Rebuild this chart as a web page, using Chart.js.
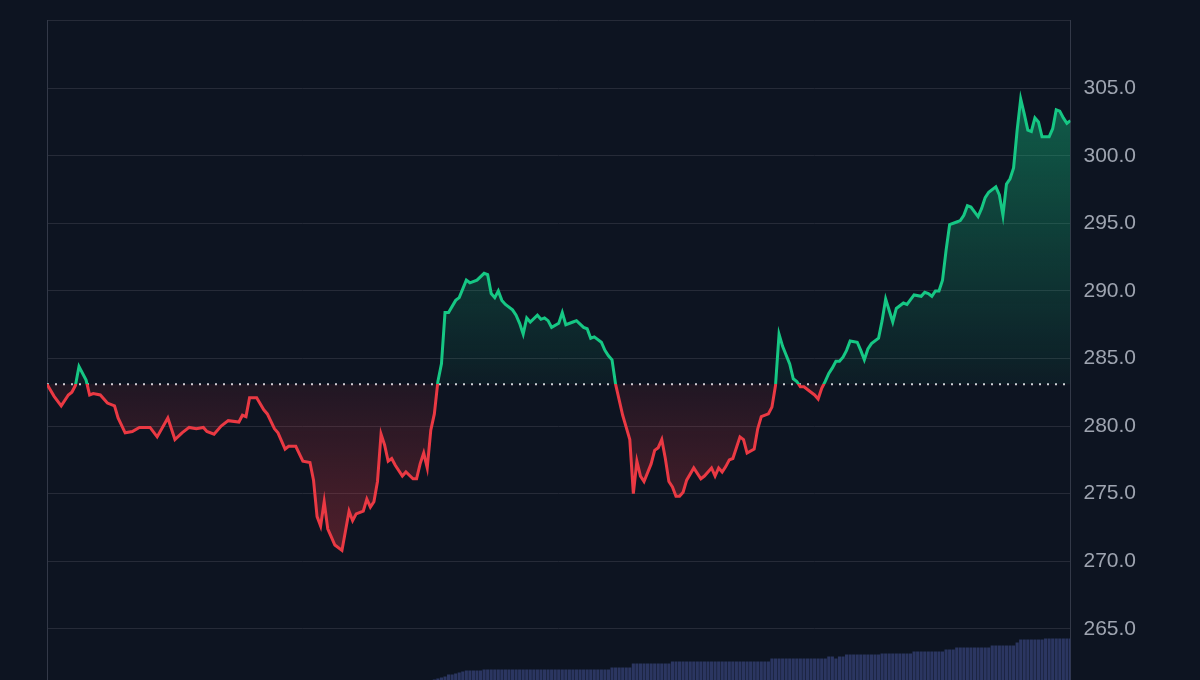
<!DOCTYPE html>
<html>
<head>
<meta charset="utf-8">
<script src="https://cdn.jsdelivr.net/npm/chart.js@4.4.1/dist/chart.umd.min.js"></script>
<style>
  html, body { margin: 0; padding: 0; background: #0d1421; overflow: hidden; width: 1200px; height: 680px; }
  /* the plot runs past the bottom of the window, as in the source screenshot */
  #wrap { position: absolute; left: 0; top: -5px; width: 1200px; height: 754px; }
</style>
</head>
<body>
<div id="wrap"><canvas id="priceChart" width="1200" height="754"></canvas></div>
<script>
// 5-minute slots across the day (0..288) and the price read at each slot
const slots = [
  0, 2, 4, 6, 7, 8, 9, 11, 12, 13, 15, 17, 19, 20, 22, 24, 26, 29, 31, 34,
  36, 38, 40, 42, 44, 45, 47, 49, 51, 54, 55, 56, 57, 59, 61, 62, 64, 65, 67, 68,
  70, 72, 74, 75, 76, 77, 78, 79, 80, 81, 83, 85, 86, 87, 89, 90, 91, 92, 93, 94,
  95, 96, 97, 98, 100, 101, 103, 104, 105, 106, 107, 108, 109, 110, 111, 112, 113, 115, 116, 118,
  119, 121, 123, 124, 125, 126, 127, 128, 129, 131, 132, 133, 134, 135, 136, 138, 139, 140, 141, 142,
  144, 145, 146, 148, 149, 151, 152, 153, 154, 156, 157, 158, 159, 160, 162, 163, 164, 165, 166, 167,
  168, 170, 171, 172, 173, 174, 175, 176, 177, 178, 179, 180, 182, 184, 185, 187, 188, 189, 190, 191,
  192, 193, 194, 195, 196, 197, 199, 200, 201, 203, 204, 205, 206, 207, 209, 210, 211, 212, 213, 215,
  216, 217, 218, 219, 220, 221, 222, 223, 224, 225, 226, 228, 229, 230, 231, 232, 234, 235, 236, 238,
  239, 241, 242, 244, 246, 247, 248, 249, 250, 251, 252, 253, 254, 256, 257, 258, 259, 260, 262, 263,
  264, 265, 267, 268, 269, 270, 271, 272, 273, 274, 275, 276, 277, 278, 279, 280, 282, 283, 284, 285,
  286, 287, 288
];
const prices = [
  283.1, 282.2, 281.5, 282.3, 282.5, 283.0, 284.4, 283.4, 282.3, 282.4, 282.3, 281.7, 281.5, 280.6, 279.5, 279.6, 279.9, 279.9, 279.2, 280.6,
  279.0, 279.5, 279.9, 279.8, 279.9, 279.6, 279.4, 280.0, 280.4, 280.3, 280.8, 280.7, 282.1, 282.1, 281.2, 280.9, 279.8, 279.5, 278.3, 278.5,
  278.5, 277.4, 277.3, 276.0, 273.3, 272.6, 274.4, 272.4, 271.8, 271.2, 270.8, 273.7, 273.0, 273.5, 273.7, 274.6, 274.0, 274.4, 275.9, 279.4,
  278.6, 277.4, 277.6, 277.1, 276.3, 276.6, 276.1, 276.1, 277.2, 278.0, 276.9, 279.7, 280.9, 283.3, 284.6, 288.4, 288.4, 289.3, 289.5, 290.8,
  290.6, 290.8, 291.3, 291.2, 289.8, 289.5, 290.0, 289.3, 289.0, 288.6, 288.2, 287.6, 286.8, 288.0, 287.7, 288.2, 287.9, 288.0, 287.8, 287.3,
  287.6, 288.4, 287.5, 287.7, 287.8, 287.3, 287.2, 286.5, 286.6, 286.2, 285.6, 285.2, 284.9, 283.1, 280.8, 279.9, 279.0, 275.0, 277.4, 276.3,
  275.9, 277.2, 278.2, 278.4, 279.0, 277.6, 275.9, 275.5, 274.8, 274.8, 275.1, 276.0, 276.9, 276.1, 276.3, 276.9, 276.3, 276.9, 276.6, 277.0,
  277.5, 277.6, 278.4, 279.2, 279.0, 278.0, 278.3, 279.8, 280.7, 280.9, 281.4, 283.0, 286.8, 285.9, 284.6, 283.5, 283.3, 282.9, 282.9, 282.5,
  282.3, 282.0, 282.8, 283.3, 283.9, 284.3, 284.8, 284.8, 285.1, 285.6, 286.3, 286.2, 285.6, 284.9, 285.7, 286.1, 286.5, 287.8, 289.4, 287.7,
  288.7, 289.1, 289.0, 289.7, 289.6, 289.9, 289.8, 289.6, 290.0, 290.0, 290.8, 293.0, 294.9, 295.1, 295.2, 295.6, 296.3, 296.2, 295.5, 296.1,
  296.9, 297.3, 297.7, 297.1, 295.6, 297.9, 298.3, 299.1, 301.9, 304.2, 303.1, 301.9, 301.8, 302.8, 302.5, 301.4, 301.4, 302.0, 303.4, 303.3,
  302.8, 302.4, 302.6
];
const baseline = 283.1;

// volume bars, one per slot starting at volStart
const volStart = 108;
const volumes = [
  43, 44, 45, 46, 47, 49, 49, 50, 51, 52,
  53, 53, 53, 53, 53,
  54, 54, 54, 54, 54, 54, 54, 54, 54, 54, 54, 54, 54, 54, 54, 54, 54, 54,
  54, 54, 54, 54, 54, 54, 54, 54, 54, 54, 54, 54, 54, 54, 54, 54, 54, 54,
  56, 56, 56, 56, 56, 56,
  60, 60, 60, 60, 60, 60, 60, 60, 60, 60, 60,
  62, 62, 62, 62, 62, 62, 62, 62, 62, 62, 62, 62, 62, 62,
  62, 62, 62, 62, 62, 62, 62, 62, 62, 62, 62, 62, 62, 62,
  65, 65, 65, 65, 65, 65, 65, 65, 65, 65, 65, 65, 65, 65, 65, 65,
  67, 67, 65, 67, 67,
  69, 69, 69, 69, 69, 69, 69, 69, 69, 69,
  70, 70, 70, 70, 70, 70, 70, 70, 70,
  72, 72, 72, 72, 72, 72, 72, 72, 72,
  74, 74, 74,
  76, 76, 76, 76, 76, 76, 76, 76, 76, 76,
  78, 78, 78, 78, 78, 78, 78,
  81,
  84, 84, 84, 84, 84, 84, 84,
  85, 85, 85, 85, 85, 85, 85, 85
];

const yTicks = [265, 270, 275, 280, 285, 290, 295, 300, 305, 310];

const GREEN = '#16c784';
const RED = '#ea3943';

function baseFrac(chart) {
  const { chartArea, scales } = chart;
  return (scales.y.getPixelForValue(baseline) - chartArea.top) / (chartArea.bottom - chartArea.top);
}

function lineColor(ctx) {
  const chart = ctx.chart;
  if (!chart.chartArea) return GREEN;
  const { top, bottom } = chart.chartArea;
  const f = baseFrac(chart);
  const g = chart.ctx.createLinearGradient(0, top, 0, bottom);
  g.addColorStop(0, GREEN);
  g.addColorStop(f, GREEN);
  g.addColorStop(f, RED);
  g.addColorStop(1, RED);
  return g;
}

function areaColor(ctx) {
  const chart = ctx.chart;
  if (!chart.chartArea) return 'rgba(22,199,132,0.2)';
  const { top, bottom } = chart.chartArea;
  const f = baseFrac(chart);
  const fLow = (chart.scales.y.getPixelForValue(270) - top) / (bottom - top);
  const g = chart.ctx.createLinearGradient(0, top, 0, bottom);
  g.addColorStop(0, 'rgba(22,199,132,0.5)');
  g.addColorStop(f, 'rgba(22,199,132,0.05)');
  g.addColorStop(f, 'rgba(234,57,67,0.09)');
  g.addColorStop(fLow, 'rgba(234,57,67,0.32)');
  g.addColorStop(1, 'rgba(234,57,67,0.36)');
  return g;
}

const priceData = slots.map((s, i) => ({ x: s, y: prices[i] }));
const volData = volumes.map((v, i) => ({ x: volStart + i, y: v }));

new Chart(document.getElementById('priceChart'), {
  type: 'line',
  data: {
    datasets: [
      {
        data: priceData,
        borderColor: lineColor,
        backgroundColor: areaColor,
        borderWidth: 3,
        pointRadius: 0,
        tension: 0,
        fill: { value: baseline },
        order: 0
      },
      {
        data: [{ x: 0, y: baseline }, { x: 288, y: baseline }],
        borderColor: '#d2d5db',
        borderWidth: 2,
        borderDash: [2, 6],
        pointRadius: 0,
        fill: false,
        order: 1
      },
      {
        type: 'bar',
        data: volData,
        yAxisID: 'yv',
        backgroundColor: '#2b3661',
        barPercentage: 1,
        categoryPercentage: 0.88,
        order: 2
      }
    ]
  },
  options: {
    responsive: false,
    animation: false,
    devicePixelRatio: 1,
    layout: { padding: { left: 47, right: 51, top: 0, bottom: 0 } },
    plugins: { legend: { display: false }, tooltip: { enabled: false } },
    scales: {
      x: { type: 'linear', min: 0, max: 288, offset: false, display: false },
      y: {
        position: 'right',
        min: 258,
        max: 310,
        afterBuildTicks: (axis) => { axis.ticks = yTicks.map(v => ({ value: v })); },
        grid: { color: '#262b38', lineWidth: 1, drawTicks: false },
        border: { display: true, color: '#333948', width: 1 },
        ticks: {
          padding: 13,
          color: '#9ea4b0',
          font: { family: '"Liberation Sans", Arial, sans-serif', size: 21 },
          callback: (v) => v === 310 ? '' : v.toFixed(1)
        }
      },
      yl: {
        position: 'left',
        display: true,
        grid: { display: false, drawTicks: false },
        border: { display: true, color: '#333948', width: 1 },
        ticks: { display: false }
      },
      yv: { display: false, min: 0, max: 703 }
    }
  }
});
</script>
</body>
</html>
